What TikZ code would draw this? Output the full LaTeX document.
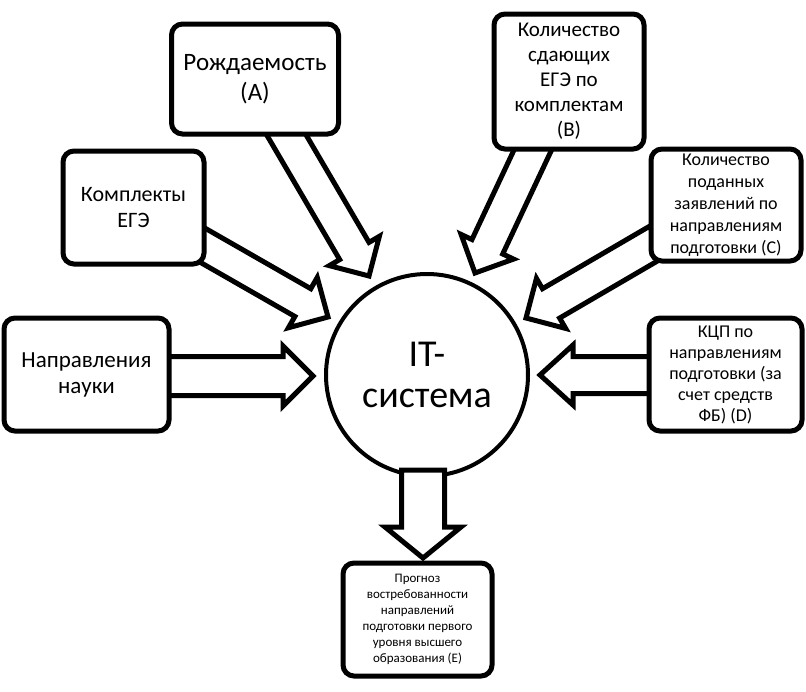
\documentclass[tikz,border=0pt]{standalone}
\usepackage{fontspec}
\setmainfont{Carlito}
\usetikzlibrary{calc}
\newcommand\blockarrow[6]{%
  \coordinate (#6-hb) at ($(#2)!#5!(#1)$);
  \draw[barrow] ($(#1)!#3!90:(#2)$) -- ($(#6-hb)!#3!-90:(#1)$) -- ($(#6-hb)!#4!-90:(#1)$) -- (#2)
    -- ($(#6-hb)!#4!90:(#1)$) -- ($(#6-hb)!#3!90:(#1)$) -- ($(#1)!#3!-90:(#2)$) -- cycle;
}
\newcommand\fs[2]{\fontsize{#1}{#2}\selectfont}
\begin{document}
\begin{tikzpicture}[x=1pt,y=-1pt,
  box/.style={draw, line width=5pt, rounded corners=11pt, fill=white, align=center, inner sep=0pt},
  barrow/.style={draw, line width=5pt, fill=white, line join=miter},
  ]
\useasboundingbox (0,0) rectangle (806,691);
% arrow end points
\coordinate (sA) at (280,124);   \coordinate (tA) at (369,276);
\coordinate (sB) at (537,141);   \coordinate (tB) at (475,273);
\coordinate (sC) at (658,241);   \coordinate (tC) at (526,318);
\coordinate (sK) at (197,242);   \coordinate (tK) at (328,317);
\coordinate (sN) at (165,376);   \coordinate (tN) at (313,376);
\coordinate (sD) at (652,375);   \coordinate (tD) at (540,375);
\coordinate (sE) at (423,470);   \coordinate (tE) at (423,558);
\blockarrow{sA}{tA}{17pt}{29pt}{29pt}{aA}
\blockarrow{sB}{tB}{17pt}{29pt}{29pt}{aB}
\blockarrow{sC}{tC}{17pt}{29pt}{29pt}{aC}
\blockarrow{sK}{tK}{16pt}{29pt}{29pt}{aK}
\blockarrow{sN}{tN}{19.5pt}{30pt}{30pt}{aN}
\blockarrow{sD}{tD}{18.5pt}{30pt}{33pt}{aD}
% boxes
\node[box, minimum width=167pt, minimum height=110pt, font=\fs{25}{30}] (A) at (255,79)
  {Рождаемость\\(A)};
\node[box, minimum width=150pt, minimum height=135pt, font=\fs{21}{25}] (B) at (569,81.5)
  {Количество\\сдающих\\ЕГЭ по\\комплектам\\(B)};
\node[box, minimum width=150pt, minimum height=112pt, font=\fs{18}{22}] (C) at (726,205)
  {Количество\\поданных\\заявлений по\\направлениям\\подготовки (C)};
\node[box, minimum width=153pt, minimum height=113pt, font=\fs{18}{21}] (D) at (725.5,374.5)
  {КЦП по\\направлениям\\подготовки (за\\счет средств\\ФБ) (D)};
\node[box, minimum width=141pt, minimum height=113pt, font=\fs{22}{26}] (K) at (133.5,207.5)
  {Комплекты\\ЕГЭ};
\node[box, minimum width=165pt, minimum height=113pt, font=\fs{23}{26}] (N) at (86.5,374.5)
  {Направления\\науки};
\node[draw, circle, line width=4pt, minimum size=202pt, fill=white, align=center, inner sep=0pt, font=\fs{38}{41}] (IT) at (427,375)
  {IT-\\система};
\blockarrow{sE}{tE}{21.5pt}{38pt}{31pt}{aE}
\node[box, minimum width=149pt, minimum height=113pt, font=\fs{13}{16}] (E) at (417.5,619.5)
  {Прогноз\\востребованности\\направлений\\подготовки первого\\уровня высшего\\образования (E)};
\end{tikzpicture}
\end{document}
